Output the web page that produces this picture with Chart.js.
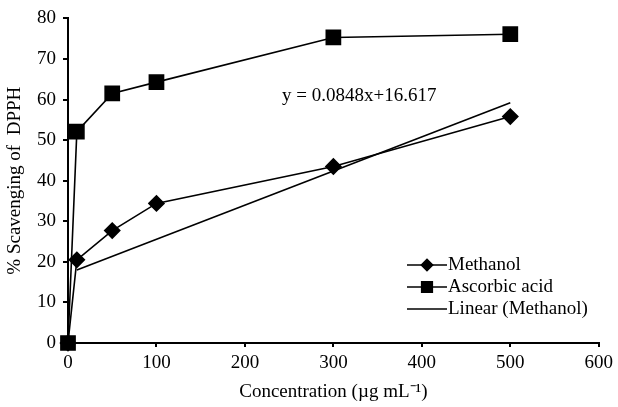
<!DOCTYPE html>
<html>
<head>
<meta charset="utf-8">
<script src="https://cdn.jsdelivr.net/npm/chart.js@4"></script>
<style>
  html, body { margin: 0; padding: 0; background: #fff; }
  #wrap { width: 618px; height: 407px; }
</style>
</head>
<body>
<div id="wrap"><canvas id="myChart"></canvas></div>
<script>
// concentrations (ug/mL)
var concentrations = [0, 10, 50, 100, 300, 500];
var methanolValues = [0, 20.5, 27.7, 34.4, 43.5, 55.8];
var ascorbicValues = [0, 52.1, 61.5, 64.3, 75.3, 76.1];
// trendline end points
var trendX = [10, 500];
var trendY = [18.0, 59.2];
var xTicks = [0, 100, 200, 300, 400, 500, 600];
var yTicks = [0, 10, 20, 30, 40, 50, 60, 70, 80];
var equationText = 'y = 0.0848x+16.617';

var serif = '"Liberation Serif", "Times New Roman", serif';

function pairs(xs, ys) {
    var out = [];
    for (var i = 0; i < xs.length; i++) {
        out.push({ x: xs[i], y: ys[i] });
    }
    return out;
}

var legendPlugin = {
    id: 'insideLegend',
    afterDraw: function(chart) {
        var ctx = chart.ctx;
        ctx.save();
        ctx.fillStyle = '#000';
        ctx.strokeStyle = '#000';
        ctx.font = '19px ' + serif;
        ctx.textBaseline = 'middle';
        ctx.fillText(equationText, 282, 96);

        var items = chart.data.datasets;
        var top = 265;
        for (var i = 0; i < items.length; i++) {
            var ds = items[i];
            var y = top + i * 22;
            ctx.lineWidth = 1.6;
            ctx.beginPath();
            ctx.moveTo(407, y);
            ctx.lineTo(447, y);
            ctx.stroke();
            if (ds.pointRadius > 0) {
                Chart.helpers.drawPoint(ctx, {
                    pointStyle: ds.pointStyle,
                    rotation: 0,
                    radius: ds.pointRadius * 0.75,
                    borderWidth: 1
                }, 427, y);
            }
            ctx.fillText(ds.label, 448, y);
        }
        ctx.restore();
    }
};

var ctx = document.getElementById('myChart');
var chart = new Chart(ctx, {
    type: 'scatter',
    data: {
        datasets: [{
            label: 'Methanol',
            data: pairs(concentrations, methanolValues),
            showLine: true,
            clip: false,
            borderColor: '#000',
            backgroundColor: '#000',
            borderWidth: 1.6,
            pointStyle: 'rectRot',
            pointRadius: 7.5,
            pointHoverRadius: 7.5
        }, {
            label: 'Ascorbic acid',
            data: pairs(concentrations, ascorbicValues),
            showLine: true,
            clip: false,
            borderColor: '#000',
            backgroundColor: '#000',
            borderWidth: 1.6,
            pointStyle: 'rect',
            pointRadius: 10,
            pointHoverRadius: 10
        }, {
            label: 'Linear (Methanol)',
            data: pairs(trendX, trendY),
            showLine: true,
            clip: false,
            borderColor: '#000',
            backgroundColor: '#000',
            borderWidth: 1.6,
            pointRadius: 0
        }]
    },
    options: {
        responsive: true,
        maintainAspectRatio: false,
        animation: false,
        layout: { padding: { top: 18, right: 19, left: 0, bottom: 0 } },
        plugins: {
            legend: { display: false },
            tooltip: { enabled: false }
        },
        scales: {
            x: {
                type: 'linear',
                min: 0,
                max: 600,
                afterBuildTicks: function(scale) {
                    scale.ticks = xTicks.map(function(v) { return { value: v }; });
                },
                afterFit: function(scale) { scale.height = 64; },
                grid: { drawOnChartArea: false, drawTicks: true, tickLength: 4, color: '#000', lineWidth: 2 },
                border: { color: '#000', width: 2 },
                ticks: { color: '#000', font: { family: serif, size: 19 }, padding: 5, maxRotation: 0 },
                title: {
                    display: true,
                    text: 'Concentration (µg mL⁻¹)',
                    color: '#000',
                    font: { family: serif, size: 19 },
                    padding: { top: 0 }
                }
            },
            y: {
                min: 0,
                max: 80,
                afterBuildTicks: function(scale) {
                    scale.ticks = yTicks.map(function(v) { return { value: v }; });
                },
                afterFit: function(scale) { scale.width = 68; },
                grid: { drawOnChartArea: false, drawTicks: true, tickLength: 5, color: '#000', lineWidth: 2 },
                border: { color: '#000', width: 2 },
                ticks: { color: '#000', font: { family: serif, size: 19 }, padding: 7 },
                title: {
                    display: true,
                    text: '% Scavenging of  DPPH',
                    color: '#000',
                    font: { family: serif, size: 19 },
                    padding: { bottom: 2 }
                }
            }
        }
    },
    plugins: [legendPlugin]
});
</script>
</body>
</html>
